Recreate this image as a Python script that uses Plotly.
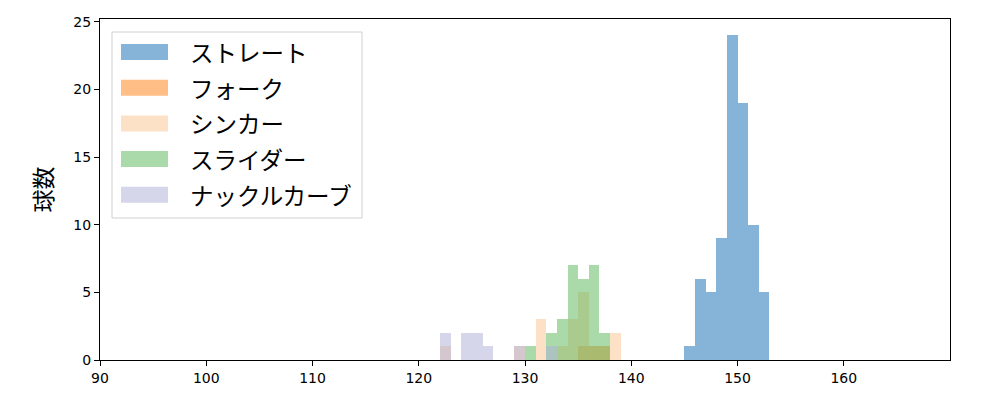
import plotly.graph_objects as go

# ---- data (bin left edges and counts, bin width 1 km/h) ----
series_names = ["ストレート", "フォーク", "シンカー", "スライダー", "ナックルカーブ"]

straight_bins = [145, 146, 147, 148, 149, 150, 151, 152]
straight_counts = [1, 6, 5, 9, 24, 19, 10, 5]

fork_bins = [135, 136, 137]
fork_counts = [1, 1, 1]

sinker_bins = [122, 129, 131, 133, 134, 135, 138]
sinker_counts = [1, 1, 3, 1, 3, 5, 2]

slider_bins = [130, 132, 133, 134, 135, 136, 137]
slider_counts = [1, 2, 3, 7, 6, 7, 2]

knuckle_bins = [122, 124, 125, 126, 129, 132]
knuckle_counts = [2, 2, 2, 1, 1, 1]

x_ticks = [90, 100, 110, 120, 130, 140, 150, 160]
y_ticks = [0, 5, 10, 15, 20, 25]

colors = [
    "rgba(13,105,179,0.5)",
    "rgba(255,125,13,0.5)",
    "rgba(251,195,141,0.5)",
    "rgba(85,181,85,0.5)",
    "rgba(171,173,213,0.5)",
]

all_bins = [straight_bins, fork_bins, sinker_bins, slider_bins, knuckle_bins]
all_counts = [straight_counts, fork_counts, sinker_counts, slider_counts, knuckle_counts]

fig = go.Figure()
for name, b, c, col in zip(series_names, all_bins, all_counts, colors):
    fig.add_trace(go.Bar(
        x=b, y=c, name=name, offset=0, width=1,
        marker=dict(color=col, line=dict(width=0)),
        showlegend=False,
    ))

# page body has an 8px margin; compensate so the plot area lands at x 100-950, y 19-360
OFF = 8
W, H = 992, 392
L, R, T, B = 92, 50, 11, 40
pw, ph = W - L - R, H - T - B

def px(x):
    return (x - OFF - L) / pw

def py(y):
    return (OFF + H - B - y) / ph

# legend drawn manually (matplotlib-like wide swatches)
shapes = [dict(type="rect", xref="paper", yref="paper",
               x0=px(112), x1=px(362), y0=py(218), y1=py(32),
               line=dict(color="#d0d0d0", width=1), fillcolor="rgba(255,255,255,0.8)",
               layer="above")]
annotations = []
row0, step = 52, 35.7
for i, (name, col) in enumerate(zip(series_names, colors)):
    cy = row0 + i * step
    shapes.append(dict(type="rect", xref="paper", yref="paper",
                       x0=px(121), x1=px(168), y0=py(cy + 8), y1=py(cy - 8),
                       line=dict(width=0), fillcolor=col, layer="above"))
    annotations.append(dict(xref="paper", yref="paper", x=px(188), y=py(cy),
                            text=name, showarrow=False, xanchor="left", yanchor="middle",
                            font=dict(size=23.5, color="#000000", family="Noto Sans CJK JP")))

fig.update_layout(
    width=W, height=H,
    margin=dict(l=L, r=R, t=T, b=B, autoexpand=False),
    barmode="overlay",
    bargap=0,
    plot_bgcolor="white",
    paper_bgcolor="white",
    shapes=shapes,
    annotations=annotations,
    font=dict(family="DejaVu Sans", size=14, color="#000000"),
    xaxis=dict(range=[90, 170], tickvals=x_ticks, ticks="outside", ticklen=5, tickwidth=1.2,
               tickcolor="#000000", showline=True, linecolor="#000000", linewidth=1.2,
               mirror=True, showgrid=False, zeroline=False, tickfont=dict(size=14)),
    yaxis=dict(range=[0, 25.2], tickvals=y_ticks, ticks="outside", ticklen=5, tickwidth=1.2,
               tickcolor="#000000", showline=True, linecolor="#000000", linewidth=1.2,
               mirror=True, showgrid=False, zeroline=False, tickfont=dict(size=14),
               title=dict(text="球数", standoff=14,
                          font=dict(size=23, family="Noto Sans CJK JP"))),
)

fig.write_html("out.html")
